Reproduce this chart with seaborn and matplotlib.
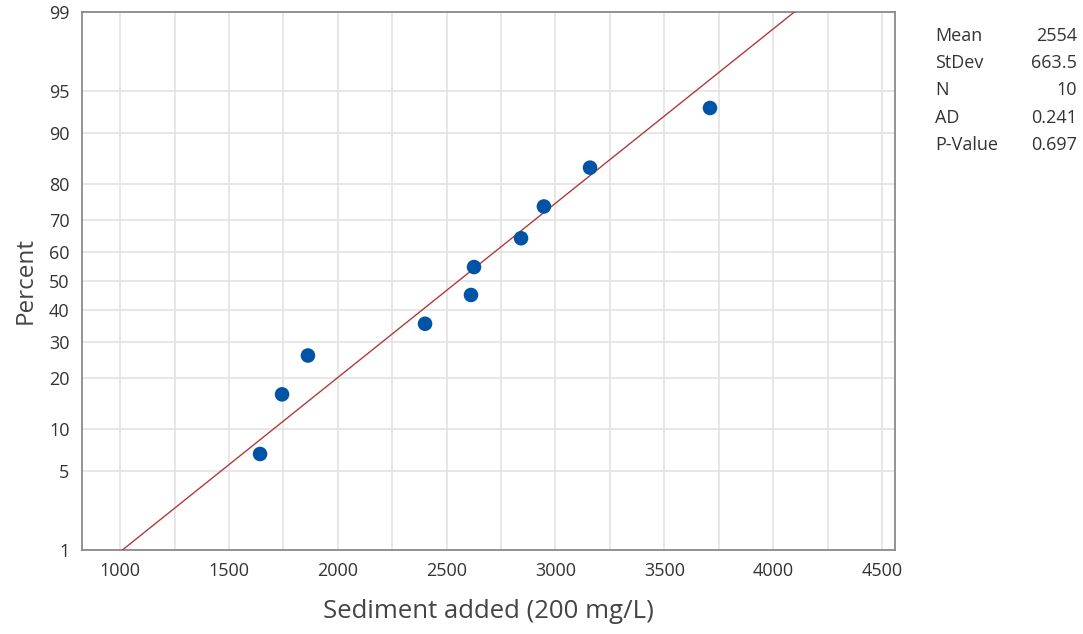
import math
import numpy as np
import pandas as pd
import matplotlib
matplotlib.use("Agg")
import matplotlib.pyplot as plt
import seaborn as sns

# data
sediment = [1643, 1744, 1863, 2401, 2612, 2626, 2842, 2947, 3159, 3710]
mean, stdev = 2554, 663.5
stat_names = ["Mean", "StDev", "N", "AD", "P-Value"]
stat_values = ["2554", "663.5", "10", "0.241", "0.697"]
pct_ticks = [1, 5, 10, 20, 30, 40, 50, 60, 70, 80, 90, 95, 99]
x_ticks = [1000, 1500, 2000, 2500, 3000, 3500, 4000, 4500]

# median rank plotting positions (Minitab style)
n = len(sediment)
percent = [(i - 0.3) / (n + 0.4) * 100 for i in range(1, n + 1)]
df = pd.DataFrame({"sediment": sorted(sediment), "percent": percent})

# normal cdf / inverse via lookup table
z_grid = np.linspace(-8, 8, 40001)
cdf_grid = np.array([0.5 * (1 + math.erf(z / math.sqrt(2))) for z in z_grid])


def to_z(p):
    p = np.clip(np.asarray(p, dtype=float) / 100, 1e-12, 1 - 1e-12)
    return np.interp(p, cdf_grid, z_grid)


def from_z(z):
    return np.interp(np.asarray(z, dtype=float), z_grid, cdf_grid) * 100


# fitted line
fit_p = np.linspace(0.5, 99.5, 200)
fit = pd.DataFrame({"percent": fit_p, "sediment": mean + stdev * to_z(fit_p)})

sns.set_style("white")
plt.rcParams["font.family"] = ["Open Sans", "DejaVu Sans"]

fig = plt.figure(figsize=(10.83, 6.34), dpi=100)
ax = fig.add_axes([82 / 1083, 1 - 550 / 634, (895 - 82) / 1083, (550 - 12) / 634])
ax.set_yscale("function", functions=(to_z, from_z))

sns.lineplot(data=fit, x="sediment", y="percent", ax=ax, color="#B23A3A",
             lw=1.0, sort=False, zorder=3)
sns.scatterplot(data=df, x="sediment", y="percent", ax=ax, color="#0054A6",
                s=110, edgecolor="none", zorder=4)

ax.set_xlim(825, 4560)
ax.set_ylim(1, 99)
ax.set_xticks(x_ticks)
ax.set_xticks(np.arange(1000, 4501, 250), minor=True)
ax.set_yticks(pct_ticks)
ax.set_yticklabels([str(t) for t in pct_ticks])
ax.yaxis.set_minor_locator(matplotlib.ticker.NullLocator())

ax.grid(True, which="both", axis="x", color="#E3E3E3", lw=1.2)
ax.grid(True, which="major", axis="y", color="#E3E3E3", lw=1.2)
ax.set_axisbelow(True)
ax.tick_params(axis="both", which="major", direction="out", length=5,
               width=1, color="#8A8A8A", labelsize=13, labelcolor="#333333", pad=4)
ax.tick_params(axis="x", which="minor", length=0)
for s in ax.spines.values():
    s.set_color("#8A8A8A")
    s.set_linewidth(1.3)

ax.set_xlabel("Sediment added (200 mg/L)", fontsize=18.5, color="#444444", labelpad=13)
ax.set_ylabel("Percent", fontsize=17.5, color="#444444", labelpad=8)

# summary statistics
for i, (name, val) in enumerate(zip(stat_names, stat_values)):
    y = 1 - (36 + i * 27.2) / 634
    fig.text(935 / 1083, y, name, fontsize=13, color="#333333", va="center", ha="left")
    fig.text(1077 / 1083, y, val, fontsize=13, color="#333333", va="center", ha="right")

fig.savefig("out.png", dpi=100)
